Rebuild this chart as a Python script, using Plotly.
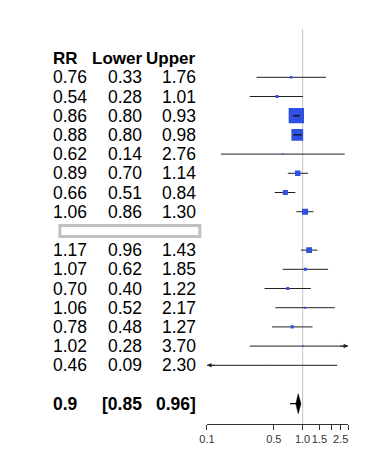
import numpy as np
import plotly.graph_objects as go

# ---------------- data ----------------
rr    = [0.76, 0.54, 0.86, 0.88, 0.62, 0.89, 0.66, 1.06,
         1.17, 1.07, 0.70, 1.06, 0.78, 1.02, 0.46]
lower = [0.33, 0.28, 0.80, 0.80, 0.14, 0.70, 0.51, 0.86,
         0.96, 0.62, 0.40, 0.52, 0.48, 0.28, 0.09]
upper = [1.76, 1.01, 0.93, 0.98, 2.76, 1.14, 0.84, 1.30,
         1.43, 1.85, 1.22, 2.17, 1.27, 3.70, 2.30]
weights = [1.2, 1.7, 42.5, 25.0, 0.4, 5.3, 4.7, 6.8,
           6.1, 1.7, 1.7, 0.8, 1.7, 0.4, 0.2]
group_sizes = [8, 7]
summary_rr, summary_lo, summary_hi = 0.9, 0.85, 0.96
summary_tail = 0.74
headers = ["RR", "Lower", "Upper"]
tick_vals = [0.1, 0.5, 1.0, 1.5, 2.0, 2.5, 3.0]
tick_text = ["0.1", "0.5", "1.0", "1.5", "", "2.5", ""]
x_min, x_max = 0.1, 3.0

# ---------------- layout constants ----------------
W, H = 376, 452
def px_x(p):
    return p / W

dom_x = [px_x(203.3), px_x(347.6)]
row0_px, row_h = 58.1, 19.2
axis_px = 424
dom_y = [(H - axis_px) / H, 1.0]
y_top = -row0_px / row_h
y_bot = (axis_px - row0_px) / row_h
ref_top = (29 - row0_px) / row_h

# row positions: header row 0, group rows, separator row, blank, summary
rows = []
r = 1
sep_rows = []
for gi, n in enumerate(group_sizes):
    rows += list(range(r, r + n))
    r += n
    if gi < len(group_sizes) - 1:
        sep_rows.append(r)
        r += 1
summary_row = r + 1

font_fam = "Liberation Sans, Arial, Helvetica, sans-serif"
fs = 17.5
fs_head = 17
col_rr_x = px_x(45)
col_lo_x = px_x(137.5)
col_hi_x = px_x(193.5)

blue = "#2F50E0"
line_col = "#222222"

fig = go.Figure()

# reference line at 1
fig.add_trace(go.Scatter(x=[1, 1], y=[ref_top, y_bot], mode="lines",
                         line=dict(color="#CCCCCC", width=1.2),
                         hoverinfo="skip", showlegend=False))

# CI lines (clipped)
ppd = W * (dom_x[1] - dom_x[0]) / (np.log10(x_max) - np.log10(x_min))
sizes = [2.35 * np.sqrt(w) for w in weights]
for lo, hi, y in zip(lower, upper, rows):
    fig.add_trace(go.Scatter(x=[max(lo, x_min), min(hi, x_max)], y=[y, y], mode="lines",
                             line=dict(color=line_col, width=1),
                             hoverinfo="skip", showlegend=False))

# boxes
fig.add_trace(go.Scatter(x=rr, y=rows, mode="markers",
                         marker=dict(symbol="square", size=sizes, color=blue, opacity=1,
                                     line=dict(width=0)),
                         hoverinfo="skip", showlegend=False))

# CI lines narrower than box drawn on top
for e, lo, hi, y, s in zip(rr, lower, upper, rows, sizes):
    half = s / 2 / ppd
    if np.log10(lo) > np.log10(e) - half and np.log10(hi) < np.log10(e) + half:
        fig.add_trace(go.Scatter(x=[lo, hi], y=[y, y], mode="lines",
                                 line=dict(color="#111111", width=1.4),
                                 hoverinfo="skip", showlegend=False))

# arrows for clipped CIs
annotations = []
for lo, hi, y in zip(lower, upper, rows):
    if hi > x_max:
        annotations.append(dict(x=np.log10(x_max), y=y, ax=np.log10(x_max) - 0.1, ay=y,
                                xref="x", yref="y", axref="x", ayref="y", text="",
                                showarrow=True, arrowhead=2, arrowsize=0.9,
                                arrowwidth=1, arrowcolor=line_col))
    if lo < x_min:
        annotations.append(dict(x=np.log10(x_min), y=y, ax=np.log10(x_min) + 0.1, ay=y,
                                xref="x", yref="y", axref="x", ayref="y", text="",
                                showarrow=True, arrowhead=2, arrowsize=0.9,
                                arrowwidth=1, arrowcolor=line_col))

# summary diamond
hd = 10 / row_h
fig.add_trace(go.Scatter(x=[summary_tail, summary_rr], y=[summary_row, summary_row], mode="lines",
                         line=dict(color="black", width=1.2),
                         hoverinfo="skip", showlegend=False))
fig.add_trace(go.Scatter(x=[summary_lo, summary_rr, summary_hi, summary_rr, summary_lo],
                         y=[summary_row, summary_row - hd, summary_row, summary_row + hd, summary_row],
                         mode="lines", fill="toself", fillcolor="black",
                         line=dict(color="black", width=0.5),
                         hoverinfo="skip", showlegend=False))

# text table
def txt(x, y, s, anchor, bold=False, size=fs):
    annotations.append(dict(x=x, y=y, xref="paper", yref="y", text=("<b>%s</b>" % s) if bold else s,
                            xanchor=anchor, yanchor="middle", showarrow=False, borderpad=0,
                            font=dict(family=font_fam, size=size, color="black")))

txt(col_rr_x, 0, headers[0], "left", True, fs_head)
txt(col_lo_x, 0, headers[1], "right", True, fs_head)
txt(col_hi_x, 0, headers[2], "right", True, fs_head)
for e, lo, hi, y in zip(rr, lower, upper, rows):
    txt(col_rr_x, y, "%.2f" % e, "left")
    txt(col_lo_x, y, "%.2f" % lo, "right")
    txt(col_hi_x, y, "%.2f" % hi, "right")
txt(col_rr_x, summary_row, "%g" % summary_rr, "left", True)
txt(col_lo_x, summary_row, "[%.2f" % summary_lo, "right", True)
txt(col_hi_x, summary_row, "%.2f]" % summary_hi, "right", True)

shapes = []
for sr in sep_rows:
    shapes.append(dict(type="rect", xref="paper", yref="y",
                       x0=px_x(53), x1=px_x(196), y0=sr - 5.5 / row_h, y1=sr + 5.5 / row_h,
                       line=dict(color="#C0C0C0", width=3), fillcolor="white"))

fig.update_layout(
    width=W, height=H,
    margin=dict(l=0, r=0, t=0, b=0),
    paper_bgcolor="white", plot_bgcolor="white",
    annotations=annotations, shapes=shapes,
    xaxis=dict(type="log", domain=dom_x, range=[np.log10(x_min), np.log10(x_max)],
               showgrid=False, zeroline=False, showline=True, linecolor="#333333", linewidth=1,
               ticks="outside", ticklen=5, tickcolor="#333333", tickwidth=1, tickangle=0,
               tickmode="array", tickvals=tick_vals, ticktext=tick_text,
               tickfont=dict(family=font_fam, size=11, color="#333333")),
    yaxis=dict(domain=dom_y, range=[y_bot, y_top], visible=False,
               showgrid=False, zeroline=False),
)

fig.write_html("out.html", config={"displayModeBar": False},
               post_script="document.body.style.margin='0px';")
